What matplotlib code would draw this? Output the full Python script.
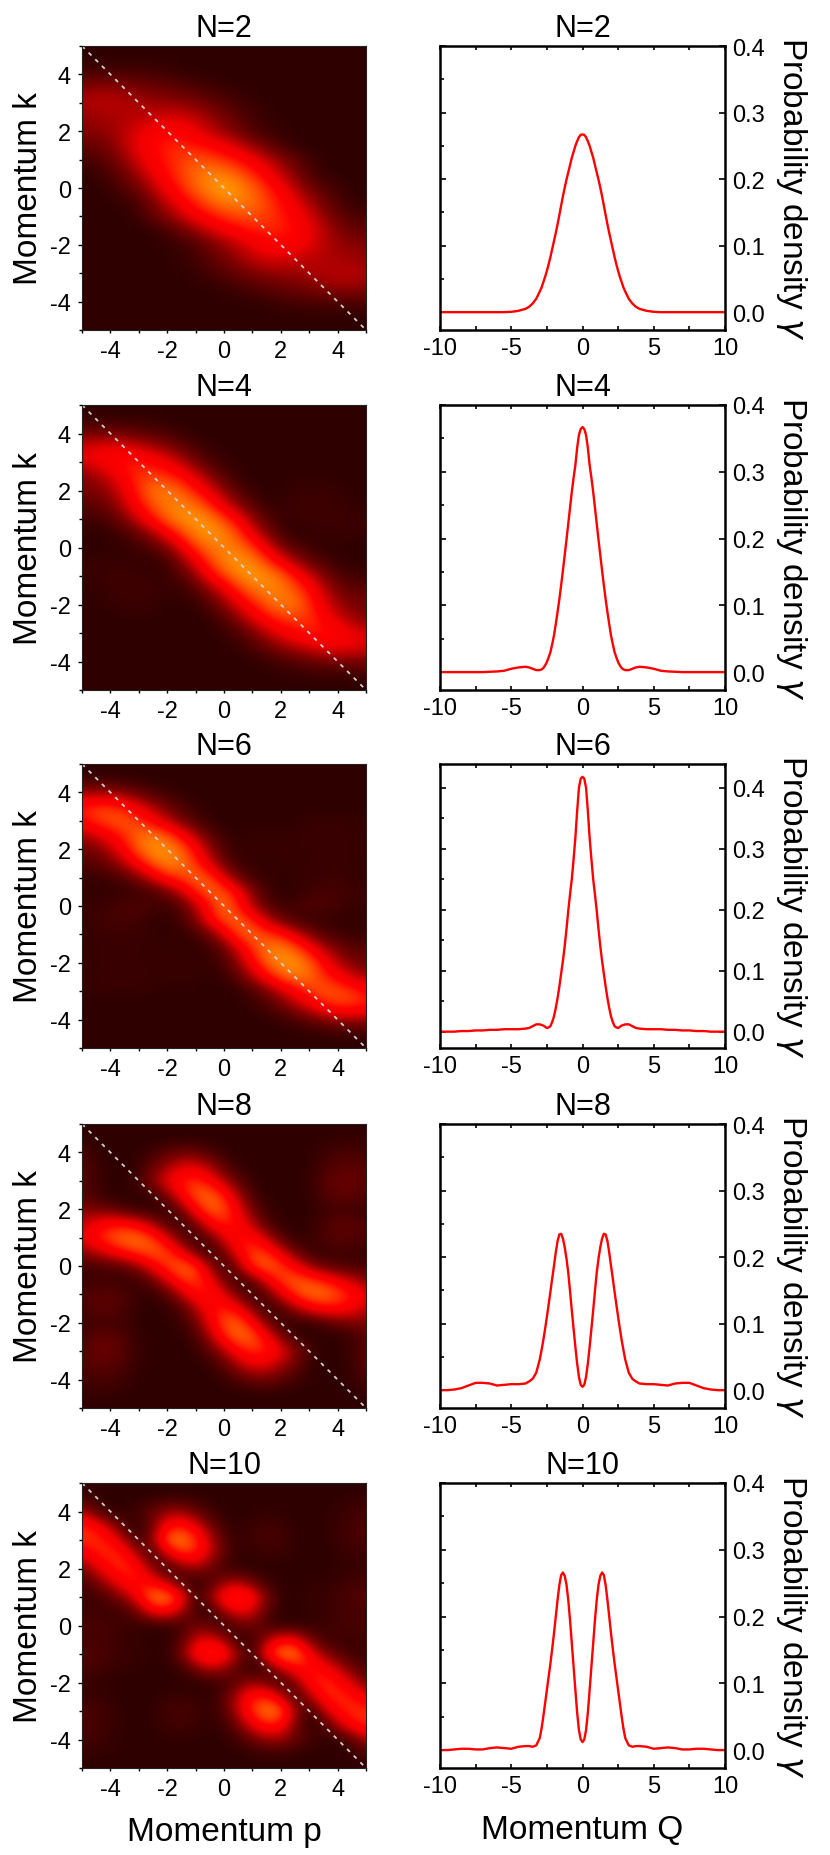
import numpy as np
import matplotlib
matplotlib.use("Agg")
import matplotlib.pyplot as plt
from matplotlib.colors import LinearSegmentedColormap
from matplotlib.ticker import MultipleLocator

plt.rcParams['font.family'] = ['Liberation Sans', 'DejaVu Sans']
plt.rcParams['axes.unicode_minus'] = False

titles = ["N=2", "N=4", "N=6", "N=8", "N=10"]

# heat maps: rows k = 5 ... 0 by 0.5, columns p = -5 ... 5 by 0.5, read by eye
# the pictures are point symmetric so the lower half is the upper one turned round
heat_n2 = [
    [0]*21,
    [1,1,1,1,1,1,1,0,0,0,0,0,0,0,0,0,0,0,0,0,0],
    [10,10,10,10,9,8,6,4,2,1,0,0,0,0,0,0,0,0,0,0,0],
    [28,30,30,28,24,20,18,14,10,7,4,2,1,0,0,0,0,0,0,0,0],
    [34,38,38,36,34,32,30,28,24,18,12,7,3,1,0,0,0,0,0,0,0],
    [28,32,34,36,38,40,44,44,38,30,22,14,7,3,1,0,0,0,0,0,0],
    [26,28,30,38,48,56,60,58,50,40,30,20,10,5,2,1,0,0,0,0,0],
    [16,18,26,38,50,62,68,70,66,60,52,42,30,18,8,2,0,0,0,0,0],
    [8,10,18,30,45,58,68,75,80,78,72,64,54,40,28,16,6,1,0,0,0],
    [2,3,10,20,34,50,64,76,86,92,90,82,70,56,40,24,10,3,1,0,0],
    [0,1,5,12,22,38,55,70,84,94,100,94,84,70,55,38,22,12,5,1,0],
]
heat_n4 = [
    [0]*21,
    [3,3,3,3,3,2,1,0,0,0,0,0,0,0,0,0,0,0,0,0,0],
    [22,22,22,20,16,12,8,4,1,0,0,0,0,0,0,0,0,0,0,0,0],
    [45,50,52,50,44,36,28,18,9,3,1,0,0,0,0,0,0,0,0,0,0],
    [44,52,60,66,68,62,52,38,22,10,3,1,0,0,0,0,0,0,0,0,0],
    [25,32,45,60,72,76,72,62,46,28,12,3,0,0,0,1,1,1,0,0,0],
    [22,24,32,50,72,88,90,82,66,48,28,12,3,1,1,3,4,4,3,1,0],
    [14,16,24,40,62,80,90,92,86,70,48,28,12,3,3,5,5,5,4,2,1],
    [5,6,12,25,45,65,85,95,98,92,76,56,30,12,4,3,5,5,5,4,3],
    [1,1,3,8,18,34,55,76,92,98,92,76,50,26,8,1,2,3,3,4,3],
    [0,0,1,2,5,12,26,50,75,88,92,88,75,50,26,12,5,2,1,0,0],
]
heat_n6 = [
    [0]*21,
    [3,3,3,2,1,0,0,0,0,0,0,0,0,0,0,0,0,0,0,0,0],
    [30,32,30,24,16,9,4,1,0,0,0,0,0,0,0,0,0,0,0,0,0],
    [68,74,74,66,50,34,20,10,3,1,0,0,0,0,0,0,0,0,0,0,0],
    [62,74,80,82,74,58,40,22,9,2,0,0,0,0,0,1,3,3,3,3,2],
    [34,44,58,72,86,90,80,60,36,14,4,1,3,3,3,3,4,4,4,3,3],
    [18,24,38,60,84,96,96,84,60,30,10,2,3,3,3,3,3,3,3,3,3],
    [12,14,22,38,60,82,92,90,72,46,18,5,2,2,3,3,3,4,4,3,2],
    [3,3,6,12,26,46,68,76,88,78,48,20,6,2,1,2,4,4,4,3,1],
    [2,2,2,2,3,8,20,42,68,86,80,58,26,8,1,2,5,8,8,6,3],
    [3,3,6,10,12,8,5,14,36,66,88,66,36,14,5,8,12,10,6,3,3],
]
heat_n8 = [
    [0]*21,
    [2,1,0,0,0,0,0,0,0,0,0,0,0,0,0,0,0,1,3,3,3],
    [8,3,0,0,2,6,14,20,18,10,3,0,0,0,0,0,1,5,8,8,6],
    [14,5,0,0,3,18,32,46,48,34,14,3,0,0,0,0,2,8,13,14,10],
    [14,6,1,0,8,28,52,68,72,60,36,14,3,0,0,0,3,12,18,18,12],
    [12,6,0,0,1,4,26,58,82,86,68,34,8,1,0,0,2,10,15,15,8],
    [25,22,18,8,1,1,1,24,60,84,80,52,20,4,1,0,1,5,7,6,3],
    [38,54,62,62,52,32,10,0,26,56,70,60,36,10,2,0,2,8,14,14,8],
    [48,66,80,88,88,74,48,16,0,20,48,66,62,40,12,2,4,10,14,13,8],
    [28,40,54,68,78,84,76,52,18,0,22,58,76,72,46,20,4,3,5,5,3],
    [6,8,10,16,32,56,76,86,76,32,0,32,76,86,76,56,32,16,10,8,6],
]
heat_n10 = [
    [0]*21,
    [8,3,0,0,0,1,3,3,2,1,0,0,0,0,0,0,0,0,1,2,3],
    [36,14,1,2,8,18,30,30,18,6,1,0,1,2,1,0,0,1,3,6,7],
    [72,62,36,8,1,22,60,68,50,22,5,1,4,7,5,1,0,1,4,8,10],
    [72,72,64,36,2,34,86,92,74,42,12,3,6,8,7,2,0,1,4,8,9],
    [50,66,72,66,34,3,44,70,68,42,14,2,2,5,3,1,0,0,2,4,4],
    [22,44,64,72,62,26,1,20,30,18,6,1,0,0,0,0,0,0,1,2,3],
    [8,20,40,60,66,60,42,6,1,10,30,38,22,4,1,0,1,2,4,7,8],
    [3,6,14,30,58,92,92,66,4,30,68,78,62,24,2,1,3,4,7,11,12],
    [5,5,4,7,24,54,60,34,6,1,32,52,42,14,1,0,2,3,6,8,6],
    [8,9,8,4,2,1,1,6,20,14,0,14,20,6,1,1,2,4,8,9,8],
]

# probability density, Q >= 0 only, curves are symmetric about 0
q_half = [0,.125,.25,.375,.5,.625,.75,.875,1,1.125,1.25,1.375,1.5,1.625,1.75,1.875,2,
          2.125,2.25,2.375,2.5,2.625,2.75,2.875,3,3.25,3.5,3.75,4,
          4.5,5,5.5,6,6.5,7,7.5,8,8.5,9,9.5,10]
dens_n2 = [.267,.2665,.263,.257,.25,.241,.232,.221,.21,.199,.187,.174,.16,.146,.132,.119,.107,
           .095,.083,.072,.062,.053,.045,.037,.031,.02,.013,.008,.005,
           .002,.0005,0,0,0,0,0,0,0,0,0,0]
dens_n4 = [.367,.364,.355,.336,.31,.291,.27,.246,.222,.198,.175,.152,.13,.109,.09,.072,.055,
           .042,.03,.022,.015,.01,.006,.004,.003,.003,.005,.007,.008,
           .007,.005,.002,.001,.0005,0,0,0,0,0,0,0]
dens_n6 = [.418,.415,.4,.362,.318,.283,.25,.225,.198,.168,.14,.116,.095,.074,.055,.039,.025,
           .016,.009,.007,.006,.008,.01,.011,.012,.012,.009,.006,.005,
           .004,.004,.004,.003,.003,.002,.002,.001,.001,0,0,0]
dens_n8 = [.005,.008,.02,.04,.065,.092,.12,.149,.177,.198,.215,.228,.235,.234,.224,.207,.187,
           .168,.148,.129,.11,.092,.075,.06,.046,.026,.017,.013,.01,
           .009,.009,.008,.007,.01,.011,.011,.007,.003,.001,0,0]
dens_n10 = [.012,.016,.03,.056,.09,.125,.16,.195,.225,.248,.261,.266,.262,.247,.225,.2,.175,
            .152,.13,.11,.09,.07,.05,.032,.018,.007,.005,.006,.006,
            .005,.002,.003,.004,.003,.001,.001,.002,.002,.001,0,0]

heats = [heat_n2, heat_n4, heat_n6, heat_n8, heat_n10]
denss = [dens_n2, dens_n4, dens_n6, dens_n8, dens_n10]
y_tops = [.4, .4, .439, .4, .4]
y_bottom = -.0268

# top and bottom of each row in pixels
rows_px = [(47, 331), (406, 691), (765, 1049), (1125, 1409), (1484, 1769)]

W, H = 830, 1856
FS = 17

cmap = LinearSegmentedColormap.from_list("hotish", [
    (0, "#2e0000"), (.25, "#800000"), (.5, "#f00000"), (.62, "#ff0000"), (.8, "#ff5000"), (1, "#ffa500")])


def add_axes_px(x0, x1, top, bottom):
    return fig.add_axes([x0/W, 1-bottom/H, (x1-x0)/W, (bottom-top)/H])


fig = plt.figure(figsize=(W/100, H/100), dpi=100)

for i in range(5):
    top, bottom = rows_px[i]

    # left: heat map
    ax = add_axes_px(82, 366, top, bottom)
    upper = np.array(heats[i], dtype=float)
    grid = np.vstack([upper, upper[:-1][::-1, ::-1]])
    ax.imshow(grid, extent=(-5.25, 5.25, -5.25, 5.25), cmap=cmap, vmin=0, vmax=100,
              interpolation='bicubic', aspect='auto')
    ax.plot([-5, 5], [5, -5], color='#d0d0d0', lw=1.3, dashes=(2.2, 3))
    ax.set_xlim(-5, 5)
    ax.set_ylim(-5, 5)
    ax.set_xticks([-4, -2, 0, 2, 4])
    ax.set_yticks([-4, -2, 0, 2, 4])
    ax.xaxis.set_minor_locator(MultipleLocator(1))
    ax.yaxis.set_minor_locator(MultipleLocator(1))
    ax.tick_params(which='both', direction='out', length=2, width=1, labelsize=FS, pad=5)
    ax.tick_params(axis='y', which='major', length=3)
    for s in ax.spines.values():
        s.set_linewidth(.8)
        s.set_color('#222222')
    ax.set_title(titles[i], fontsize=22, pad=7)
    ax.set_ylabel("Momentum k", fontsize=24, labelpad=4)
    if i == 4:
        ax.set_xlabel("Momentum p", fontsize=24, labelpad=12)

    # right: density curve
    ax = add_axes_px(440, 725, top, bottom)
    qh = np.array(q_half)
    dh = np.array(denss[i])
    q = np.concatenate([-qh[:0:-1], qh])
    d = np.concatenate([dh[:0:-1], dh])
    ax.plot(q, d, color='#ff0000', lw=1.7)
    ax.set_xlim(-10, 10)
    ax.set_ylim(y_bottom, y_tops[i])
    ax.set_xticks([-10, -5, 0, 5, 10])
    ax.set_yticks([0, .1, .2, .3, .4])
    ax.set_yticklabels(["0.0", "0.1", "0.2", "0.3", "0.4"])
    ax.xaxis.set_minor_locator(MultipleLocator(2.5))
    ax.yaxis.set_minor_locator(MultipleLocator(.05))
    ax.tick_params(which='both', direction='in', top=True, bottom=True, left=True, right=True,
                   width=1.2, length=3, labelsize=FS, labelleft=False, labelright=True)
    ax.tick_params(axis='y', which='major', length=4.5, pad=5)
    ax.tick_params(axis='y', which='minor', right=False)
    ax.tick_params(axis='x', which='major', pad=5)
    for s in ax.spines.values():
        s.set_linewidth(1.8)
    ax.set_title(titles[i], fontsize=22, pad=7)
    ax.yaxis.set_label_position('right')
    ax.set_ylabel("Probability density $\\gamma$", fontsize=24, rotation=-90, labelpad=7, va='bottom')
    if i == 4:
        ax.set_xlabel("Momentum Q", fontsize=24, labelpad=12)

fig.savefig("out.png", dpi=100)
